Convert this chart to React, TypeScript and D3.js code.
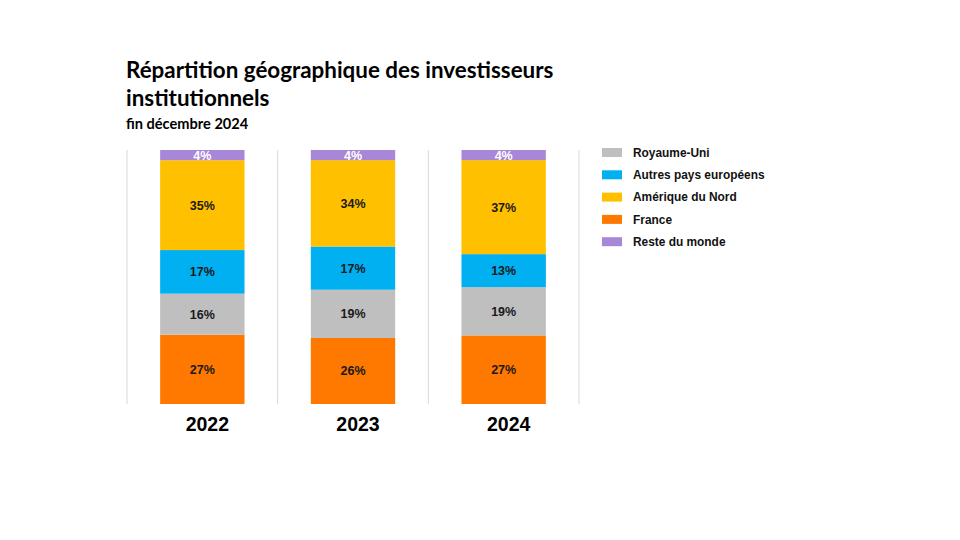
import { useEffect, useRef } from "react";
import * as d3 from "d3";

const years = ["2022", "2023", "2024"];
const seriesKeys = [
  "France",
  "Royaume-Uni",
  "Autres pays européens",
  "Amérique du Nord",
  "Reste du monde",
];
const legendOrder = [
  "Royaume-Uni",
  "Autres pays européens",
  "Amérique du Nord",
  "France",
  "Reste du monde",
];
const france = [27, 26, 27];
const royaumeUni = [16, 19, 19];
const autresEurope = [17, 17, 13];
const ameriqueNord = [35, 34, 37];
const resteMonde = [4, 4, 4];

const colors: Record<string, string> = {
  France: "#FF7900",
  "Royaume-Uni": "#BFBFBF",
  "Autres pays européens": "#00B0F0",
  "Amérique du Nord": "#FFC000",
  "Reste du monde": "#A886D8",
};

const ARIAL = "'Liberation Sans', Arial, sans-serif";
const TITLE_FONT = "Lato, 'Open Sans', sans-serif";

export default function App() {
  const svgRef = useRef<SVGSVGElement | null>(null);

  useEffect(() => {
    const width = 960;
    const height = 540;
    const top = 150;
    const bottom = 404;

    const rows = years.map((y, i) => ({
      year: y,
      France: france[i],
      "Royaume-Uni": royaumeUni[i],
      "Autres pays européens": autresEurope[i],
      "Amérique du Nord": ameriqueNord[i],
      "Reste du monde": resteMonde[i],
    }));

    const stacked = d3
      .stack<any>()
      .keys(seriesKeys)
      .offset(d3.stackOffsetExpand)(rows);

    const x = d3
      .scaleBand()
      .domain(years)
      .range([127, 579])
      .paddingInner(0)
      .paddingOuter(0);
    const barW = x.bandwidth() * 0.56;
    const y = d3.scaleLinear().domain([0, 1]).range([bottom, top]);

    const svg = d3
      .select(svgRef.current)
      .attr("width", width)
      .attr("height", height)
      .html("");

    svg.append("rect").attr("width", width).attr("height", height).attr("fill", "#fff");

    // titles
    const title = svg
      .append("text")
      .attr("font-family", TITLE_FONT)
      .attr("font-weight", "bold")
      .attr("font-size", 22.4)
      .attr("fill", "#000");
    title.append("tspan").attr("x", 126).attr("y", 78).text("Répartition géographique des investisseurs");
    title.append("tspan").attr("x", 126).attr("y", 106).text("institutionnels");
    svg
      .append("text")
      .attr("x", 126)
      .attr("y", 129)
      .attr("font-family", TITLE_FONT)
      .attr("font-weight", "bold")
      .attr("font-size", 14.6)
      .text("fin décembre 2024");

    // vertical gridlines
    const gridXs = [...years.map((d) => x(d)!), x(years[years.length - 1])! + x.bandwidth()];
    svg
      .append("g")
      .selectAll("line")
      .data(gridXs)
      .join("line")
      .attr("x1", (d) => d)
      .attr("x2", (d) => d)
      .attr("y1", top)
      .attr("y2", bottom)
      .attr("stroke", "#D9D9D9")
      .attr("stroke-width", 1);

    // bars
    const layers = svg
      .append("g")
      .selectAll("g")
      .data(stacked)
      .join("g")
      .attr("fill", (d) => colors[d.key]);

    layers
      .selectAll("rect")
      .data((d) => d.map((p) => ({ p, key: d.key })))
      .join("rect")
      .attr("x", (d) => x(d.p.data.year)! + (x.bandwidth() - barW) / 2)
      .attr("y", (d) => y(d.p[1]))
      .attr("width", barW)
      .attr("height", (d) => y(d.p[0]) - y(d.p[1]));

    // value labels
    layers
      .selectAll("text")
      .data((d) => d.map((p) => ({ p, key: d.key })))
      .join("text")
      .attr("x", (d) => x(d.p.data.year)! + x.bandwidth() / 2)
      .attr("y", (d) => (y(d.p[0]) + y(d.p[1])) / 2)
      .attr("dy", "0.36em")
      .attr("text-anchor", "middle")
      .attr("font-family", ARIAL)
      .attr("font-weight", "bold")
      .attr("font-size", 12.5)
      .attr("fill", (d) => (d.key === "Reste du monde" ? "#fff" : "#1a1a1a"))
      .text((d) => `${d.p.data[d.key]}%`);

    // x labels
    svg
      .append("g")
      .selectAll("text")
      .data(years)
      .join("text")
      .attr("x", (d) => x(d)! + x.bandwidth() / 2 + 5)
      .attr("y", 431)
      .attr("text-anchor", "middle")
      .attr("font-family", ARIAL)
      .attr("font-weight", "bold")
      .attr("font-size", 19.5)
      .attr("fill", "#000")
      .text((d) => d);

    // legend
    const legend = svg
      .append("g")
      .selectAll("g")
      .data(legendOrder)
      .join("g")
      .attr("transform", (_, i) => `translate(602,${152.5 + i * 22.3})`);
    legend
      .append("rect")
      .attr("x", 0)
      .attr("y", -4.5)
      .attr("width", 20)
      .attr("height", 9)
      .attr("fill", (d) => colors[d]);
    legend
      .append("text")
      .attr("x", 31)
      .attr("y", 0)
      .attr("dy", "0.36em")
      .attr("font-family", ARIAL)
      .attr("font-weight", "bold")
      .attr("font-size", 11.9)
      .attr("fill", "#111")
      .text((d) => d);
  }, []);

  return (
    <div style={{ margin: -8 }}>
      <svg ref={svgRef}></svg>
    </div>
  );
}
